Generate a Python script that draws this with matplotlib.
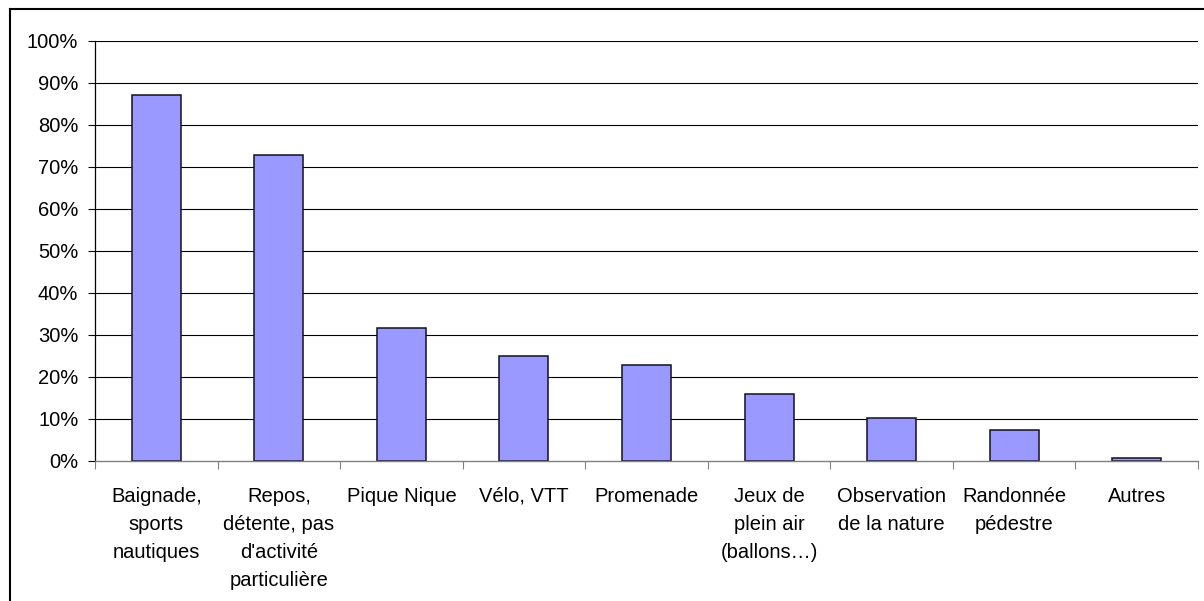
import matplotlib.pyplot as plt
import numpy as np
from matplotlib.lines import Line2D
from matplotlib.ticker import PercentFormatter

plt.rcParams['font.family'] = ['Liberation Sans', 'DejaVu Sans']

# activités pratiquées (% des répondants)
activites = [
    "Baignade,\nsports\nnautiques",
    "Repos,\ndétente, pas\nd'activité\nparticulière",
    "Pique Nique",
    "Vélo, VTT",
    "Promenade",
    "Jeux de\nplein air\n(ballons…)",
    "Observation\nde la nature",
    "Randonnée\npédestre",
    "Autres",
]
pourcentages = [87.2, 72.8, 31.7, 24.9, 22.9, 15.9, 10.3, 7.5, 0.6]
graduations = list(range(0, 101, 10))

fig = plt.figure(figsize=(12.04, 6.01), dpi=100)
ax = fig.add_axes([95 / 1204, 1 - 461 / 601, 1103 / 1204, 420 / 601])

x = np.arange(len(activites))
ax.set_axisbelow(True)
for g in graduations[1:]:
    ax.axhline(g, color='black', lw=0.8, zorder=0)
ax.bar(x, pourcentages, width=0.4, color='#9999FF', edgecolor='#111122',
       linewidth=1.1, zorder=2)

ax.set_xlim(-0.5, len(activites) - 0.5)
ax.set_ylim(0, 100)
ax.set_yticks(graduations)
ax.yaxis.set_major_formatter(PercentFormatter(decimals=0))
ax.tick_params(axis='y', length=5, width=0.8, pad=7, labelsize=14.5, color='black')

# libellés centrés sous les barres, graduations entre les catégories
ax.set_xticks(x)
ax.set_xticklabels(activites, fontsize=14.5, linespacing=1.6, va='top')
ax.tick_params(axis='x', which='major', length=0, pad=18.5)
ax.set_xticks(np.arange(-0.5, len(activites)), minor=True)
ax.tick_params(axis='x', which='minor', length=6, width=0.8, color='#808080')

for s in ('top', 'right'):
    ax.spines[s].set_visible(False)
ax.spines['left'].set_color('black')
ax.spines['left'].set_linewidth(0.9)
ax.spines['bottom'].set_color('#808080')
ax.spines['bottom'].set_linewidth(1.0)

# cadre du graphique
fig.add_artist(Line2D([10 / 1204, 10 / 1204], [0, 1 - 9 / 601],
                      transform=fig.transFigure, color='black', lw=1.5))
fig.add_artist(Line2D([10 / 1204, 1], [1 - 9 / 601, 1 - 9 / 601],
                      transform=fig.transFigure, color='black', lw=1.5))

fig.savefig('out.png', dpi=100)
